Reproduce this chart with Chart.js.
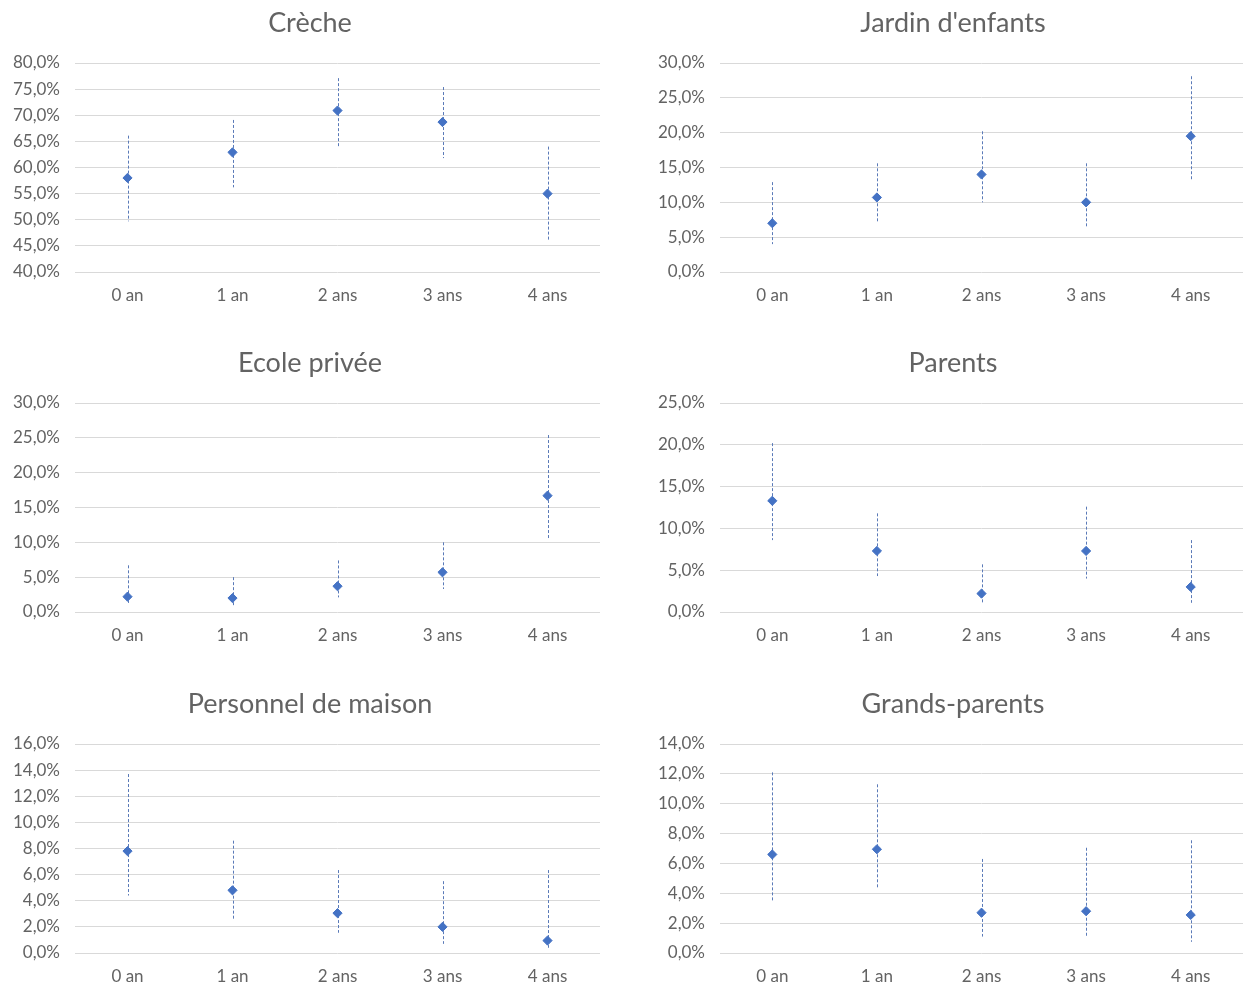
<!DOCTYPE html>
<html lang="fr">
<head>
<meta charset="utf-8">
<title>Mode de garde selon l'âge</title>
<script src="https://cdn.jsdelivr.net/npm/chart.js@4.4.1/dist/chart.umd.min.js"></script>
<style>
  html, body { margin: 0; padding: 0; background: #ffffff; }
  #page { position: relative; width: 1248px; height: 987px; overflow: hidden; }
  #page canvas { position: absolute; }
</style>
</head>
<body>
<div id="page"></div>
<script>
// Age groups shared by every panel
const categories = ['0 an', '1 an', '2 ans', '3 ans', '4 ans'];

// Crèche (%): estimate, lower and upper bound of the interval
const crecheValues = [58.0, 62.9, 70.9, 68.7, 55.0];
const crecheLow    = [49.7, 56.2, 64.0, 61.8, 46.1];
const crecheHigh   = [66.1, 69.1, 77.1, 75.4, 64.0];
const crecheTicks  = [40, 80, 5];

// Jardin d'enfants (%)
const jardinValues = [7.0, 10.7, 14.0, 10.0, 19.5];
const jardinLow    = [4.0, 7.0, 10.0, 6.5, 13.3];
const jardinHigh   = [12.9, 15.6, 20.2, 15.6, 28.1];
const jardinTicks  = [0, 30, 5];

// Ecole privée (%)
const ecoleValues = [2.2, 2.0, 3.7, 5.7, 16.7];
const ecoleLow    = [1.3, 0.8, 2.1, 3.3, 10.6];
const ecoleHigh   = [6.7, 5.0, 7.4, 10.0, 25.4];
const ecoleTicks  = [0, 30, 5];

// Parents (%)
const parentsValues = [13.3, 7.3, 2.2, 7.3, 3.0];
const parentsLow    = [8.6, 4.3, 1.0, 4.0, 1.1];
const parentsHigh   = [20.2, 11.8, 5.7, 12.6, 8.6];
const parentsTicks  = [0, 25, 5];

// Personnel de maison (%)
const personnelValues = [7.8, 4.8, 3.05, 2.0, 0.95];
const personnelLow    = [4.4, 2.6, 1.55, 0.7, 0.4];
const personnelHigh   = [13.7, 8.6, 6.35, 5.5, 6.35];
const personnelTicks  = [0, 16, 2];

// Grands-parents (%)
const grandsValues = [6.6, 6.95, 2.7, 2.8, 2.55];
const grandsLow    = [3.5, 4.35, 1.1, 1.1, 0.75];
const grandsHigh   = [12.1, 11.3, 6.3, 7.05, 7.55];
const grandsTicks  = [0, 14, 2];

const panelTitles = ['Crèche', "Jardin d'enfants", 'Ecole privée', 'Parents', 'Personnel de maison', 'Grands-parents'];

const panels = [
  { title: panelTitles[0], values: crecheValues,    low: crecheLow,    high: crecheHigh,    ticks: crecheTicks },
  { title: panelTitles[1], values: jardinValues,    low: jardinLow,    high: jardinHigh,    ticks: jardinTicks },
  { title: panelTitles[2], values: ecoleValues,     low: ecoleLow,     high: ecoleHigh,     ticks: ecoleTicks },
  { title: panelTitles[3], values: parentsValues,   low: parentsLow,   high: parentsHigh,   ticks: parentsTicks },
  { title: panelTitles[4], values: personnelValues, low: personnelLow, high: personnelHigh, ticks: personnelTicks },
  { title: panelTitles[5], values: grandsValues,    low: grandsLow,    high: grandsHigh,    ticks: grandsTicks }
];

const BLUE = '#4472C4';
const BAR = '#5a7ab8';
const TEXT = '#636363';
const GRID = '#d9d9d9';
const FONT = 'Lato, "Open Sans", sans-serif';

// Dashed vertical interval drawn behind each marker, positioned by the chart scales
const errorBars = {
  id: 'errorBars',
  beforeDatasetsDraw(chart, args, opts) {
    const { ctx, scales } = chart;
    const xs = scales.x, ys = scales.y;
    ctx.save();
    ctx.strokeStyle = opts.color;
    ctx.lineWidth = 1;
    ctx.setLineDash([3, 2]);
    opts.low.forEach((lo, i) => {
      const px = Math.round(xs.getPixelForValue(i)) + 0.5;
      ctx.beginPath();
      ctx.moveTo(px, ys.getPixelForValue(opts.high[i]));
      ctx.lineTo(px, ys.getPixelForValue(lo));
      ctx.stroke();
    });
    ctx.restore();
  }
};

const fmt = v => v.toFixed(1).replace('.', ',') + '%';

const page = document.getElementById('page');
// column geometry: canvas left edge, canvas width, empty margin kept right of the plot
const columns = [
  { left: 0,   width: 620, rightMargin: 20 },
  { left: 645, width: 616, rightMargin: 18 }
];
const rowTop = [1, 341, 682];
const H = 340;

panels.forEach((p, idx) => {
  const col = columns[idx % 2];
  const canvas = document.createElement('canvas');
  canvas.width = col.width;
  canvas.height = H;
  canvas.style.left = col.left + 'px';
  canvas.style.top = rowTop[Math.floor(idx / 2)] + 'px';
  page.appendChild(canvas);

  new Chart(canvas, {
    type: 'line',
    data: {
      labels: categories,
      datasets: [{
        data: p.values,
        showLine: false,
        pointStyle: 'rectRot',
        pointRadius: 4.6,
        pointHoverRadius: 4.6,
        pointBackgroundColor: BLUE,
        pointBorderColor: BLUE,
        pointBorderWidth: 1
      }]
    },
    options: {
      responsive: false,
      devicePixelRatio: 1,
      animation: false,
      events: [],
      layout: { padding: 0 },
      plugins: {
        legend: { display: false },
        tooltip: { enabled: false },
        title: {
          display: true,
          text: p.title,
          color: TEXT,
          font: { family: FONT, size: 27, weight: 'normal', lineHeight: 1.2 },
          padding: { top: 6, bottom: 23.6 }
        },
        errorBars: { low: p.low, high: p.high, color: BAR }
      },
      scales: {
        x: {
          type: 'category',
          offset: true,
          grid: { display: false, drawTicks: false },
          border: { display: false },
          ticks: { color: TEXT, font: { family: FONT, size: 17 }, padding: 13, maxRotation: 0 },
          afterFit(scale) {
            scale.height = 69;
            scale.paddingLeft = 0;
            scale.paddingRight = 0;
          }
        },
        y: {
          min: p.ticks[0],
          max: p.ticks[1],
          grid: { color: GRID, lineWidth: 1, drawTicks: false },
          border: { display: false },
          ticks: {
            stepSize: p.ticks[2],
            color: TEXT,
            font: { family: FONT, size: 17 },
            padding: 15,
            callback: v => fmt(v)
          },
          afterFit(scale) {
            scale.width = 75;
            scale.paddingTop = 0;
            scale.paddingBottom = 0;
          }
        },
        // blank margin on the right so the title sits over the whole panel
        margin: {
          type: 'linear',
          position: 'right',
          grid: { display: false, drawTicks: false },
          border: { display: false },
          ticks: { display: false },
          afterFit(scale) {
            scale.width = col.rightMargin;
            scale.paddingTop = 0;
            scale.paddingBottom = 0;
          }
        }
      }
    },
    plugins: [errorBars]
  });
});
</script>
</body>
</html>
